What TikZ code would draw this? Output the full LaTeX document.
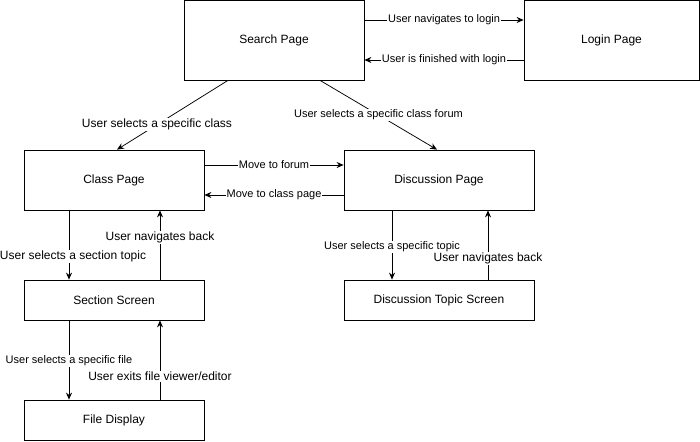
\documentclass[tikz,border=0pt]{standalone}
\usepackage{fontspec}
\setmainfont{Liberation Sans}
\usetikzlibrary{arrows.meta,positioning}

\tikzset{
  screen/.style={draw, line width=0.75pt, inner sep=0pt, font=\fontsize{12}{14}\selectfont},
  flow/.style={draw, line width=0.75pt, -{Stealth[length=7pt,width=6pt]}},
  lbl/.style={fill=white, inner sep=1pt, font=\fontsize{11}{13}\selectfont},
  biglbl/.style={lbl, font=\fontsize{12}{14}\selectfont}
}

\begin{document}
\begin{tikzpicture}[x=1pt, y=-1pt]
\useasboundingbox (0,0) rectangle (700,441);

% Screens
\node[screen, minimum width=180pt, minimum height=80pt] (search) at (274,40) {Search Page};
\node[screen, minimum width=175pt, minimum height=80pt] (login) at (611.5,40) {Login Page};
\node[screen, minimum width=180pt, minimum height=60pt] (class) at (114,180) {Class Page};
\node[screen, minimum width=190pt, minimum height=60pt] (disc) at (439,180) {Discussion Page};
\node[screen, minimum width=180pt, minimum height=40pt] (section) at (114,300) {Section Screen};
\node[screen, minimum width=180pt, minimum height=40pt] (file) at (114,420) {File Display};
\node[screen, minimum width=190pt, minimum height=40pt] (topic) at (439,300) {Discussion Topic Screen};

% Login
\draw[flow] ([yshift=20pt]search.east) -- node[lbl] {User navigates to login} ([yshift=20pt]login.west);
\draw[flow] ([yshift=-20pt]login.west) -- node[lbl] {User is finished with login} ([yshift=-20pt]search.east);

% From search
\draw[flow] ([xshift=-46pt]search.south) -- node[biglbl, pos=0.64] {User selects a specific class} ([xshift=3pt]class.north);
\draw[flow] ([xshift=46pt]search.south) -- node[lbl] {User selects a specific class forum} ([xshift=-2pt]disc.north);

% Class <-> discussion
\draw[flow] ([yshift=15pt]class.east) -- node[lbl] {Move to forum} ([yshift=15pt]disc.west);
\draw[flow] ([yshift=-15pt]disc.west) -- node[lbl] {Move to class page} ([yshift=-15pt]class.east);

% Class branch
\draw[flow] ([xshift=-45pt]class.south) -- node[biglbl, pos=0.67, xshift=4pt] {User selects a section topic} ([xshift=-45pt]section.north);
\draw[flow] ([xshift=46pt]section.north) -- node[biglbl, pos=0.61] {User navigates back} ([xshift=46pt]class.south);
\draw[flow] ([xshift=-45pt]section.south) -- node[lbl, pos=0.51] {User selects a specific file} ([xshift=-45pt]file.north);
\draw[flow] ([xshift=46pt]file.north) -- node[biglbl, pos=0.29] {User exits file viewer/editor} ([xshift=46pt]section.south);

% Discussion branch
\draw[flow] ([xshift=-47pt]disc.south) -- node[lbl, pos=0.53] {User selects a specific topic} ([xshift=-47pt]topic.north);
\draw[flow] ([xshift=49pt]topic.north) -- node[biglbl, pos=0.31] {User navigates back} ([xshift=49pt]disc.south);

\end{tikzpicture}
\end{document}
